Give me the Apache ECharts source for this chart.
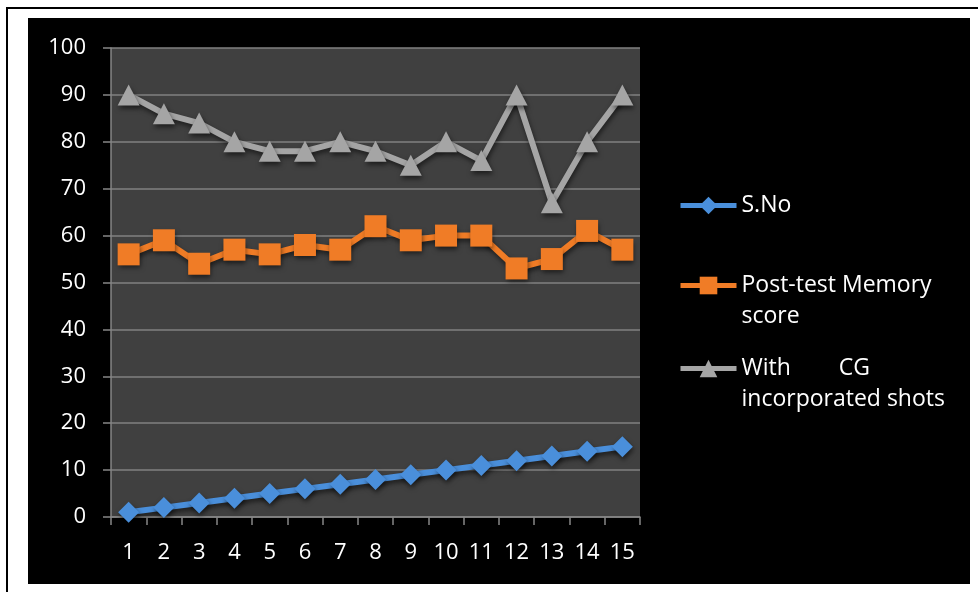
<!DOCTYPE html>
<html>
<head>
<meta charset="utf-8">
<script src="https://cdn.jsdelivr.net/npm/echarts@6/dist/echarts.min.js"></script>
<style>
  html, body { margin: 0; padding: 0; background: #ffffff; }
  #chart { width: 978px; height: 595px; }
</style>
</head>
<body>
<div id="chart"></div>
<script>
// Category axis: serial numbers 1..15
const categories = ['1', '2', '3', '4', '5', '6', '7', '8', '9', '10', '11', '12', '13', '14', '15'];

// Series values
const serialNo = [1, 2, 3, 4, 5, 6, 7, 8, 9, 10, 11, 12, 13, 14, 15];
const postTestMemory = [56, 59, 54, 57, 56, 58, 57, 62, 59, 60, 60, 53, 55, 61, 57];
const withCGShots = [90, 86, 84, 80, 78, 78, 80, 78, 75, 80, 76, 90, 67, 80, 90];

// Value axis ticks
const yTicks = { min: 0, max: 100, interval: 10 };

const seriesNames = ['S.No', 'Post-test Memory score', 'With CG incorporated shots'];
const legendText = {
  'S.No': 'S.No',
  'Post-test Memory score': '\nPost-test Memory\nscore',
  'With CG incorporated shots': '\nWith        CG\nincorporated shots'
};

const FONT = 'Open Sans';
const shadow = { shadowBlur: 5, shadowColor: 'rgba(0,0,0,0.55)', shadowOffsetX: 1, shadowOffsetY: 3 };

function legendFor(name, top) {
  return {
    orient: 'vertical',
    left: 678,
    top: top,
    padding: 0,
    data: [name],
    itemWidth: 56,
    itemHeight: 22,
    itemGap: 0,
    lineStyle: { width: 5 },
    formatter: n => legendText[n],
    textStyle: { color: '#ffffff', fontFamily: FONT, fontSize: 23, lineHeight: 31 }
  };
}

const chart = echarts.init(document.getElementById('chart'), null, { renderer: 'canvas' });
chart.setOption({
  backgroundColor: '#ffffff',
  animation: false,
  graphic: [
    { type: 'rect', z: -10, shape: { x: 28, y: 18, width: 942, height: 566 }, style: { fill: '#000000' } },
    { type: 'rect', z: -9, shape: { x: 6, y: 7, width: 972, height: 2 }, style: { fill: '#000000' } },
    { type: 'rect', z: -9, shape: { x: 6, y: 7, width: 2, height: 585 }, style: { fill: '#000000' } }
  ],
  grid: {
    left: 111, right: 338, top: 48, bottom: 78,
    show: true, backgroundColor: '#404040', borderWidth: 0
  },
  legend: [
    legendFor(seriesNames[0], 190),
    legendFor(seriesNames[1], 239),
    legendFor(seriesNames[2], 322)
  ],
  xAxis: {
    type: 'category',
    data: categories,
    boundaryGap: true,
    axisLine: { show: true, lineStyle: { color: '#868686', width: 1.5 } },
    axisTick: { show: true, length: 8, alignWithLabel: false, lineStyle: { color: '#868686', width: 1.5 } },
    axisLabel: { color: '#ffffff', fontFamily: FONT, fontSize: 22, margin: 25 },
    splitLine: { show: false }
  },
  yAxis: {
    type: 'value',
    min: yTicks.min, max: yTicks.max, interval: yTicks.interval,
    axisLine: { show: true, lineStyle: { color: '#868686', width: 1.5 } },
    axisTick: { show: true, length: 8, lineStyle: { color: '#868686', width: 1.5 } },
    axisLabel: { color: '#ffffff', fontFamily: FONT, fontSize: 22, margin: 25 },
    splitLine: { show: true, lineStyle: { color: '#808080', width: 1.5 } }
  },
  series: [
    {
      name: seriesNames[0], type: 'line', data: serialNo,
      symbol: 'diamond', symbolSize: [21, 21], z: 3,
      lineStyle: { color: '#4a8fdb', width: 6, ...shadow },
      itemStyle: { color: '#4a8fdb', ...shadow }
    },
    {
      name: seriesNames[1], type: 'line', data: postTestMemory,
      symbol: 'rect', symbolSize: [22, 22], z: 2,
      lineStyle: { color: '#f07c26', width: 6, ...shadow },
      itemStyle: { color: '#f07c26', ...shadow }
    },
    {
      name: seriesNames[2], type: 'line', data: withCGShots,
      symbol: 'triangle', symbolSize: [22, 21], z: 1,
      lineStyle: { color: '#a5a5a5', width: 6, ...shadow },
      itemStyle: { color: '#a5a5a5', ...shadow }
    }
  ]
});
</script>
</body>
</html>
